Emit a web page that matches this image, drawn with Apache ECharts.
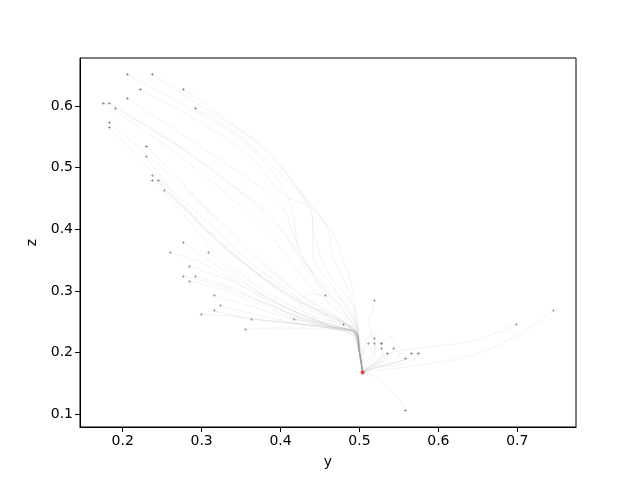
<!DOCTYPE html>
<html>
<head>
<meta charset="utf-8">
<script src="https://cdn.jsdelivr.net/npm/echarts@6/dist/echarts.min.js"></script>
<style>html,body{margin:0;padding:0;background:#fff}#c{width:640px;height:480px}</style>
</head>
<body>
<div id="c"></div>
<script>
const xTicks = [0.2, 0.3, 0.4, 0.5, 0.6, 0.7];
const zTicks = [0.1, 0.2, 0.3, 0.4, 0.5, 0.6];
const endPoint = [0.504, 0.168];
// start points (y, z)
const startY = [0.2058,0.2375,0.2223,0.2768,0.2058,0.1754,0.1830,0.1906,0.2920,0.1830,0.1830,
  0.2299,0.2299,0.2375,0.2375,0.2451,0.2527,
  0.2768,0.2603,0.3085,0.2844,0.2768,0.2920,0.2844,0.3161,0.3237,0.3161,0.2996,0.3630,0.3554,0.4171,
  0.4568,0.5189,0.4796,
  0.5189,0.5113,0.5189,0.5278,0.5278,0.5278,0.5430,0.5354,0.5658,0.5747,0.5582,0.5582,0.6989,0.7457];
const startZ = [0.6515,0.6515,0.6271,0.6271,0.6125,0.6044,0.6044,0.5963,0.5963,0.5735,0.5654,
  0.5346,0.5183,0.4875,0.4794,0.4794,0.4631,
  0.3787,0.3625,0.3625,0.3398,0.3235,0.3235,0.3154,0.2927,0.2765,0.2683,0.2618,0.2537,0.2375,0.2537,
  0.2927,0.2846,0.2456,
  0.2229,0.2148,0.2148,0.2148,0.2148,0.2067,0.2067,0.1985,0.1985,0.1985,0.1904,0.1060,0.2456,0.2683];
// intermediate waypoints of each trajectory (y, z)
const waypoints = [
  [[0.28,0.60],[0.36,0.535],[0.41,0.45],[0.425,0.36],[0.45,0.32],[0.488,0.27],[0.498,0.23],[0.501,0.20]],
  [[0.30,0.60],[0.37,0.54],[0.42,0.47],[0.46,0.40],[0.465,0.36],[0.488,0.296],[0.497,0.25],[0.50,0.21]],
  [[0.29,0.58],[0.36,0.52],[0.405,0.455],[0.44,0.43],[0.441,0.36],[0.47,0.30],[0.497,0.24],[0.50,0.20]],
  [[0.33,0.58],[0.39,0.52],[0.43,0.45],[0.463,0.40],[0.48,0.35],[0.492,0.30],[0.499,0.24],[0.502,0.20]],
  [[0.28,0.55],[0.35,0.49],[0.40,0.44],[0.42,0.38],[0.45,0.31],[0.49,0.26],[0.498,0.23],[0.501,0.20]],
  [[0.25,0.54],[0.32,0.47],[0.38,0.40],[0.43,0.32],[0.47,0.27],[0.495,0.24],[0.50,0.20]],
  [[0.26,0.545],[0.33,0.48],[0.39,0.42],[0.425,0.35],[0.46,0.29],[0.49,0.25],[0.50,0.20]],
  [[0.27,0.535],[0.34,0.47],[0.40,0.40],[0.44,0.33],[0.475,0.275],[0.495,0.24],[0.50,0.20]],
  [[0.35,0.55],[0.40,0.49],[0.435,0.44],[0.445,0.38],[0.46,0.33],[0.49,0.28],[0.498,0.235],[0.501,0.20]],
  [[0.25,0.50],[0.31,0.43],[0.36,0.37],[0.42,0.30],[0.47,0.26],[0.495,0.235],[0.50,0.20]],
  [[0.24,0.49],[0.30,0.42],[0.35,0.36],[0.41,0.30],[0.46,0.26],[0.493,0.235],[0.50,0.20]],
  [[0.28,0.47],[0.33,0.40],[0.38,0.34],[0.44,0.28],[0.49,0.24],[0.50,0.20]],
  [[0.27,0.45],[0.32,0.38],[0.37,0.33],[0.43,0.28],[0.49,0.24],[0.50,0.20]],
  [[0.28,0.43],[0.33,0.37],[0.39,0.31],[0.45,0.265],[0.49,0.24],[0.50,0.20]],
  [[0.28,0.42],[0.32,0.36],[0.38,0.30],[0.44,0.26],[0.49,0.238],[0.50,0.20]],
  [[0.29,0.42],[0.34,0.36],[0.40,0.30],[0.46,0.26],[0.495,0.236],[0.50,0.20]],
  [[0.30,0.41],[0.35,0.35],[0.41,0.29],[0.46,0.255],[0.495,0.235],[0.50,0.20]],
  [[0.32,0.34],[0.37,0.30],[0.42,0.265],[0.47,0.24],[0.496,0.232],[0.50,0.20]],
  [[0.30,0.345],[0.35,0.31],[0.40,0.27],[0.45,0.245],[0.495,0.233],[0.50,0.20]],
  [[0.34,0.33],[0.38,0.29],[0.43,0.26],[0.47,0.24],[0.496,0.232],[0.50,0.20]],
  [[0.33,0.32],[0.38,0.29],[0.43,0.26],[0.48,0.24],[0.497,0.23],[0.50,0.20]],
  [[0.32,0.31],[0.37,0.285],[0.42,0.26],[0.47,0.24],[0.496,0.232],[0.50,0.20]],
  [[0.33,0.31],[0.38,0.28],[0.43,0.255],[0.48,0.238],[0.497,0.23],[0.50,0.20]],
  [[0.32,0.305],[0.37,0.28],[0.42,0.255],[0.47,0.238],[0.496,0.23],[0.50,0.20]],
  [[0.35,0.28],[0.40,0.26],[0.45,0.245],[0.49,0.235],[0.50,0.20]],
  [[0.36,0.265],[0.41,0.25],[0.46,0.24],[0.495,0.232],[0.50,0.20]],
  [[0.35,0.258],[0.40,0.25],[0.45,0.242],[0.495,0.232],[0.50,0.20]],
  [[0.33,0.26],[0.38,0.252],[0.43,0.245],[0.48,0.235],[0.498,0.22],[0.50,0.20]],
  [[0.40,0.25],[0.45,0.243],[0.49,0.235],[0.50,0.20]],
  [[0.40,0.24],[0.45,0.238],[0.49,0.232],[0.50,0.20]],
  [[0.45,0.25],[0.48,0.24],[0.497,0.23],[0.50,0.20]],
  [[0.44,0.295],[0.425,0.285],[0.43,0.265],[0.46,0.245],[0.49,0.23],[0.50,0.20]],
  [[0.517,0.27],[0.512,0.25],[0.515,0.23],[0.52,0.21],[0.51,0.185]],
  [[0.488,0.24],[0.496,0.23],[0.50,0.20]],
  [[0.525,0.215],[0.53,0.20],[0.52,0.185],[0.51,0.175]],
  [[0.505,0.205],[0.50,0.19]],
  [[0.52,0.20],[0.515,0.185],[0.508,0.175]],
  [[0.54,0.225],[0.545,0.21],[0.535,0.19],[0.515,0.178]],
  [[0.52,0.23],[0.51,0.225],[0.505,0.20]],
  [[0.53,0.195],[0.52,0.18]],
  [[0.55,0.20],[0.545,0.185],[0.525,0.178],[0.51,0.172]],
  [[0.53,0.188],[0.515,0.178]],
  [[0.56,0.19],[0.54,0.183],[0.52,0.177]],
  [[0.57,0.19],[0.55,0.18],[0.52,0.175]],
  [[0.55,0.185],[0.53,0.178],[0.512,0.172]],
  [[0.55,0.125],[0.535,0.145],[0.52,0.16],[0.51,0.166]],
  [[0.644,0.22],[0.577,0.207],[0.54,0.20],[0.515,0.18]],
  [[0.70,0.228],[0.644,0.196],[0.577,0.18],[0.53,0.172]]
];

const chart = echarts.init(document.getElementById('c'), null, {renderer: 'canvas'});
const lineSeries = startY.map((y, i) => ({
  type: 'line',
  data: [[y, startZ[i]]].concat(waypoints[i], [endPoint]),
  smooth: 0.35,
  showSymbol: false,
  silent: true,
  lineStyle: {color: 'rgba(150,150,150,0.2)', width: 0.6},
  z: 1
}));
const plus = 'path://M0.4,0H0.6V0.4H1V0.6H0.6V1H0.4V0.6H0V0.4H0.4Z';
const option = {
  animation: false,
  backgroundColor: '#fff',
  grid: {left: 80, right: 64, top: 58, bottom: 53, show: true, borderColor: '#000', borderWidth: 1, backgroundColor: 'transparent'},
  xAxis: {
    type: 'value', min: 0.1459, max: 0.7744,
    name: 'y', nameLocation: 'middle', nameGap: 28,
    nameTextStyle: {fontFamily: 'DejaVu Sans', fontSize: 14, color: '#000'},
    axisLine: {show: true, onZero: false, lineStyle: {color: '#000', width: 1}},
    axisTick: {show: true, length: 5, customValues: xTicks, lineStyle: {color: '#000'}},
    axisLabel: {customValues: xTicks, fontFamily: 'DejaVu Sans', fontSize: 14, color: '#000', margin: 7, formatter: v => v.toFixed(1)},
    splitLine: {show: false}
  },
  yAxis: {
    type: 'value', min: 0.0794, max: 0.678,
    name: 'z', nameLocation: 'middle', nameGap: 40,
    nameTextStyle: {fontFamily: 'DejaVu Sans', fontSize: 14, color: '#000'},
    axisLine: {show: true, onZero: false, lineStyle: {color: '#000', width: 1}},
    axisTick: {show: true, length: 5, customValues: zTicks, lineStyle: {color: '#000'}},
    axisLabel: {customValues: zTicks, fontFamily: 'DejaVu Sans', fontSize: 14, color: '#000', margin: 7, formatter: v => v.toFixed(1)},
    splitLine: {show: false}
  },
  series: lineSeries.concat([
    {
      type: 'scatter',
      data: startY.map((y, i) => [y, startZ[i]]),
      symbol: plus, symbolSize: 3,
      itemStyle: {color: '#6e6e6e', opacity: 0.85},
      silent: true, z: 3
    },
    {
      type: 'scatter',
      data: [endPoint],
      symbol: 'circle', symbolSize: 4,
      itemStyle: {color: '#e8191a'},
      silent: true, z: 4
    }
  ])
};
chart.setOption(option);
</script>
</body>
</html>
